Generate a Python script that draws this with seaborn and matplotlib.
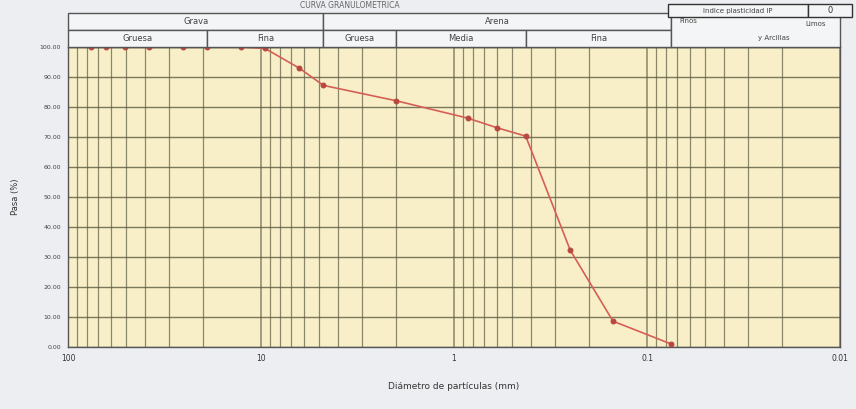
import numpy as np
import pandas as pd
import matplotlib
matplotlib.use("Agg")
import matplotlib.pyplot as plt
import matplotlib.transforms as mtransforms
from matplotlib.patches import Rectangle
import seaborn as sns

sns.set_theme(style="white")
plt.rcParams['font.family'] = ['DejaVu Sans']

# sieve openings (mm) and percent passing
diametro = [76.2, 63.5, 50.8, 38.1, 25.4, 19.05, 12.7, 9.525, 6.35, 4.75,
            2.0, 0.85, 0.6, 0.425, 0.25, 0.15, 0.075]
pasa = [100.0, 100.0, 100.0, 100.0, 100.0, 100.0, 100.0, 99.5, 93.0, 87.2,
        82.1, 76.3, 73.1, 70.3, 32.3, 8.6, 1.0]

y_ticks = [0, 10, 20, 30, 40, 50, 60, 70, 80, 90, 100]
x_ticks = [100, 10, 1, 0.1, 0.01]
x_ticklabels = ["100", "10", "1", "0.1", "0.01"]

# classification bands (top header)
bandas_sup = [("Grava", 100, 4.75), ("Arena", 4.75, 0.075)]
bandas_inf = [("Gruesa", 100, 19.05), ("Fina", 19.05, 4.75), ("Gruesa", 4.75, 2.0),
              ("Media", 2.0, 0.425), ("Fina", 0.425, 0.075)]

df = pd.DataFrame({"d": diametro, "p": pasa})

fig = plt.figure(figsize=(8.56, 4.09), dpi=100)
fig.patch.set_facecolor("#eceef1")
ax = fig.add_axes([68/856, 1 - 347/409, 772/856, 300/409])
ax.set_facecolor("#f8efc8")

ax.set_xscale("log")
ax.set_xlim(100, 0.01)
ax.set_ylim(0, 100)

# grid: log minors vertical, every 10 horizontal
grid_c = "#5c5a40"
for dec in [10, 1, 0.1, 0.01]:
    for k in range(1, 10):
        ax.axvline(dec * k, color=grid_c, lw=0.9 if k > 1 else 1.1, alpha=0.7, zorder=1)
for yv in y_ticks:
    ax.axhline(yv, color=grid_c, lw=1.0, alpha=0.8, zorder=1)

sns.lineplot(data=df, x="d", y="p", ax=ax, color="#d65f55", lw=1.2,
             marker="o", markersize=3.5, markerfacecolor="#b8473e",
             markeredgecolor="#b8473e", zorder=3)

ax.set_xticks(x_ticks)
ax.set_xticklabels(x_ticklabels, fontsize=5.5, color="#333333")
ax.xaxis.set_minor_locator(matplotlib.ticker.NullLocator())
ax.set_yticks(y_ticks)
ax.set_yticklabels([f"{v:.2f}" for v in y_ticks], fontsize=4.5, color="#444444")
ax.tick_params(axis="both", length=2, pad=3)
ax.set_xlabel("Diámetro de partículas (mm)", fontsize=6.5, color="#333333", labelpad=14)
ax.set_ylabel("Pasa (%)", fontsize=6, color="#333333", labelpad=14)
for s in ax.spines.values():
    s.set_color("#555555")
    s.set_linewidth(1.0)

# header table
trans = mtransforms.blended_transform_factory(ax.transData, ax.transAxes)
row1 = (1 + 17/300, 1 + 34/300)
row2 = (1.0, 1 + 17/300)
def celda(x0, x1, y0, y1, txt, fs=6.0):
    ax.add_patch(Rectangle((x0, y0), x1 - x0, y1 - y0, transform=trans,
                           facecolor="#f4f5f6", edgecolor="#555555", lw=1.0,
                           clip_on=False, zorder=4))
    xm = np.sqrt(x0 * x1)
    ax.text(xm, (y0 + y1) / 2, txt, transform=trans, ha="center", va="center",
            fontsize=fs, color="#444444", clip_on=False, zorder=5)

for txt, a, b in bandas_sup:
    celda(a, b, row1[0], row1[1], txt)
for txt, a, b in bandas_inf:
    celda(a, b, row2[0], row2[1], txt)
celda(0.075, 0.01, row2[0], row1[1], "")
ax.text(0.068, 1.085, "Finos", transform=trans, fontsize=5, color="#444444",
        ha="left", va="center", zorder=5)
ax.text(0.022, 1.03, "y Arcillas", transform=trans, fontsize=5, color="#444444",
        ha="center", va="center", zorder=5)
ax.text(0.0118, 1.075, "Limos", transform=trans, fontsize=5, color="#444444",
        ha="right", va="center", zorder=5)

# plasticity box top right
fig.patches.append(Rectangle((668/856, 1 - 17/409), 140/856, 13/409,
                             transform=fig.transFigure, facecolor="#f4f5f6",
                             edgecolor="#333333", lw=1.0))
fig.patches.append(Rectangle((808/856, 1 - 17/409), 44/856, 13/409,
                             transform=fig.transFigure, facecolor="#f4f5f6",
                             edgecolor="#333333", lw=1.0))
fig.text(738/856, 1 - 10.5/409, "Indice plasticidad IP", fontsize=5, color="#444444",
         ha="center", va="center")
fig.text(830/856, 1 - 10.5/409, "0", fontsize=6, color="#333333",
         ha="center", va="center")
fig.text(350/856, 1 - 1/409, "CURVA GRANULOMETRICA", fontsize=5.5, color="#666666",
         ha="center", va="top")

fig.savefig("out.png", dpi=100, facecolor=fig.get_facecolor())
